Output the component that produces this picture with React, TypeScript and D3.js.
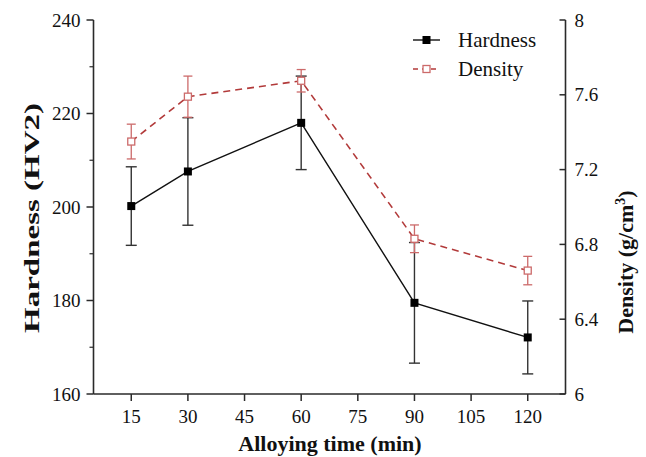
import React from "react";
import * as d3 from "d3";

const times = [15, 30, 60, 90, 120];
const hardness = [200.2, 207.6, 218.0, 179.5, 172.1];
const hardnessErr = [8.4, 11.5, 10.0, 12.9, 7.8];
const density = [7.35, 7.59, 7.675, 6.83, 6.66];
const densityErr = [0.093, 0.11, 0.06, 0.074, 0.076];
const xTicks = [15, 30, 45, 60, 75, 90, 105, 120];
const yLeftTicks = [160, 180, 200, 220, 240];
const yLeftMinor = [170, 190, 210, 230];
const yRightTicks = [6, 6.4, 6.8, 7.2, 7.6, 8];

const W = 646;
const H = 457;
const L = 93.5;
const R = 565.5;
const T = 20;
const B = 394;

const FONT = "'Liberation Serif', 'Times New Roman', serif";

export default function App() {
  const x = d3.scaleLinear().domain([5, 130]).range([L, R]);
  const yL = d3.scaleLinear().domain([160, 240]).range([B, T]);
  const yR = d3.scaleLinear().domain([6, 8]).range([B, T]);

  const hLine = d3
    .line<number>()
    .x((_, i) => x(times[i]))
    .y((d) => yL(d))(hardness) as string;
  const dLine = d3
    .line<number>()
    .x((_, i) => x(times[i]))
    .y((d) => yR(d))(density) as string;

  const axisColor = "#2a2a2a";
  const red = "#b23a3a";
  const redLight = "#cc6a6a";

  return (
    <svg
      width={W}
      height={H}
      style={{ position: "absolute", left: 0, top: 0, background: "#fff" }}
      fontFamily={FONT}
    >
      <rect x={0} y={0} width={W} height={H} fill="#fff" />
      {/* axes */}
      <line x1={L} x2={L} y1={T} y2={B} stroke={axisColor} strokeWidth={1.6} />
      <line x1={R} x2={R} y1={T} y2={B} stroke={axisColor} strokeWidth={1.6} />
      <line x1={L} x2={R} y1={B} y2={B} stroke={axisColor} strokeWidth={1.6} />

      {/* left ticks */}
      {yLeftTicks.map((t) => (
        <g key={"yl" + t}>
          <line x1={L - 7} x2={L} y1={yL(t)} y2={yL(t)} stroke={axisColor} strokeWidth={1.5} />
          <text x={L - 13} y={yL(t)} dy="0.35em" textAnchor="end" fontSize={19} fill="#111">
            {t}
          </text>
        </g>
      ))}
      {yLeftMinor.map((t) => (
        <line key={"ylm" + t} x1={L - 4} x2={L} y1={yL(t)} y2={yL(t)} stroke={axisColor} strokeWidth={1.2} />
      ))}

      {/* right ticks */}
      {yRightTicks.map((t) => (
        <g key={"yr" + t}>
          <line x1={R - 6} x2={R} y1={yR(t)} y2={yR(t)} stroke={axisColor} strokeWidth={1.5} />
          <text x={R + 9} y={yR(t)} dy="0.35em" textAnchor="start" fontSize={19} fill="#111">
            {t}
          </text>
        </g>
      ))}

      {/* x ticks */}
      {xTicks.map((t) => (
        <g key={"x" + t}>
          <line x1={x(t)} x2={x(t)} y1={B} y2={B + 7} stroke={axisColor} strokeWidth={1.5} />
          <text x={x(t)} y={423} textAnchor="middle" fontSize={19} fill="#111">
            {t}
          </text>
        </g>
      ))}

      {/* axis titles */}
      <text
        x={330}
        y={451}
        textAnchor="middle"
        fontSize={22}
        fontWeight="bold"
        fill="#111"
      >
        Alloying time (min)
      </text>
      <text
        transform={`translate(39,218) rotate(-90)`}
        textAnchor="middle"
        fontSize={22}
        fontWeight="bold"
        fill="#111"
        textLength={230}
        lengthAdjust="spacingAndGlyphs"
      >
        Hardness (HV2)
      </text>
      <text
        transform={`translate(633,262) rotate(-90)`}
        textAnchor="middle"
        fontSize={22}
        fontWeight="bold"
        fill="#111"
      >
        Density (g/cm
        <tspan dy={-8} fontSize={14}>3</tspan>
        <tspan dy={8}>)</tspan>
      </text>

      {/* hardness series */}
      {times.map((t, i) => (
        <g key={"he" + t} stroke="#333" strokeWidth={1.4}>
          <line x1={x(t)} x2={x(t)} y1={yL(hardness[i] - hardnessErr[i])} y2={yL(hardness[i] + hardnessErr[i])} />
          <line x1={x(t) - 5.5} x2={x(t) + 5.5} y1={yL(hardness[i] - hardnessErr[i])} y2={yL(hardness[i] - hardnessErr[i])} />
          <line x1={x(t) - 5.5} x2={x(t) + 5.5} y1={yL(hardness[i] + hardnessErr[i])} y2={yL(hardness[i] + hardnessErr[i])} />
        </g>
      ))}
      <path d={hLine} fill="none" stroke="#111" strokeWidth={1.4} />
      {times.map((t, i) => (
        <rect key={"hm" + t} x={x(t) - 4} y={yL(hardness[i]) - 4} width={8} height={8} fill="#000" />
      ))}

      {/* density series */}
      {times.map((t, i) => (
        <g key={"de" + t} stroke={redLight} strokeWidth={1.3}>
          <line x1={x(t)} x2={x(t)} y1={yR(density[i] - densityErr[i])} y2={yR(density[i] + densityErr[i])} />
          <line x1={x(t) - 4.5} x2={x(t) + 4.5} y1={yR(density[i] - densityErr[i])} y2={yR(density[i] - densityErr[i])} />
          <line x1={x(t) - 4.5} x2={x(t) + 4.5} y1={yR(density[i] + densityErr[i])} y2={yR(density[i] + densityErr[i])} />
        </g>
      ))}
      <path d={dLine} fill="none" stroke={red} strokeWidth={1.6} strokeDasharray="7,5" />
      {times.map((t, i) => (
        <rect
          key={"dm" + t}
          x={x(t) - 3.5}
          y={yR(density[i]) - 3.5}
          width={7}
          height={7}
          fill="#fff"
          stroke={redLight}
          strokeWidth={1.3}
        />
      ))}

      {/* legend */}
      <g>
        <line x1={413} x2={440} y1={40} y2={40} stroke="#111" strokeWidth={1.4} />
        <rect x={422.5} y={36} width={8} height={8} fill="#000" />
        <text x={458} y={40} dy="0.35em" fontSize={21} fill="#111">
          Hardness
        </text>
        <line x1={413} x2={440} y1={69} y2={69} stroke={red} strokeWidth={1.5} strokeDasharray="5,4" />
        <rect x={423} y={65.5} width={7} height={7} fill="#fff" stroke={redLight} strokeWidth={1.3} />
        <text x={458} y={69} dy="0.35em" fontSize={21} fill="#111">
          Density
        </text>
      </g>
    </svg>
  );
}
